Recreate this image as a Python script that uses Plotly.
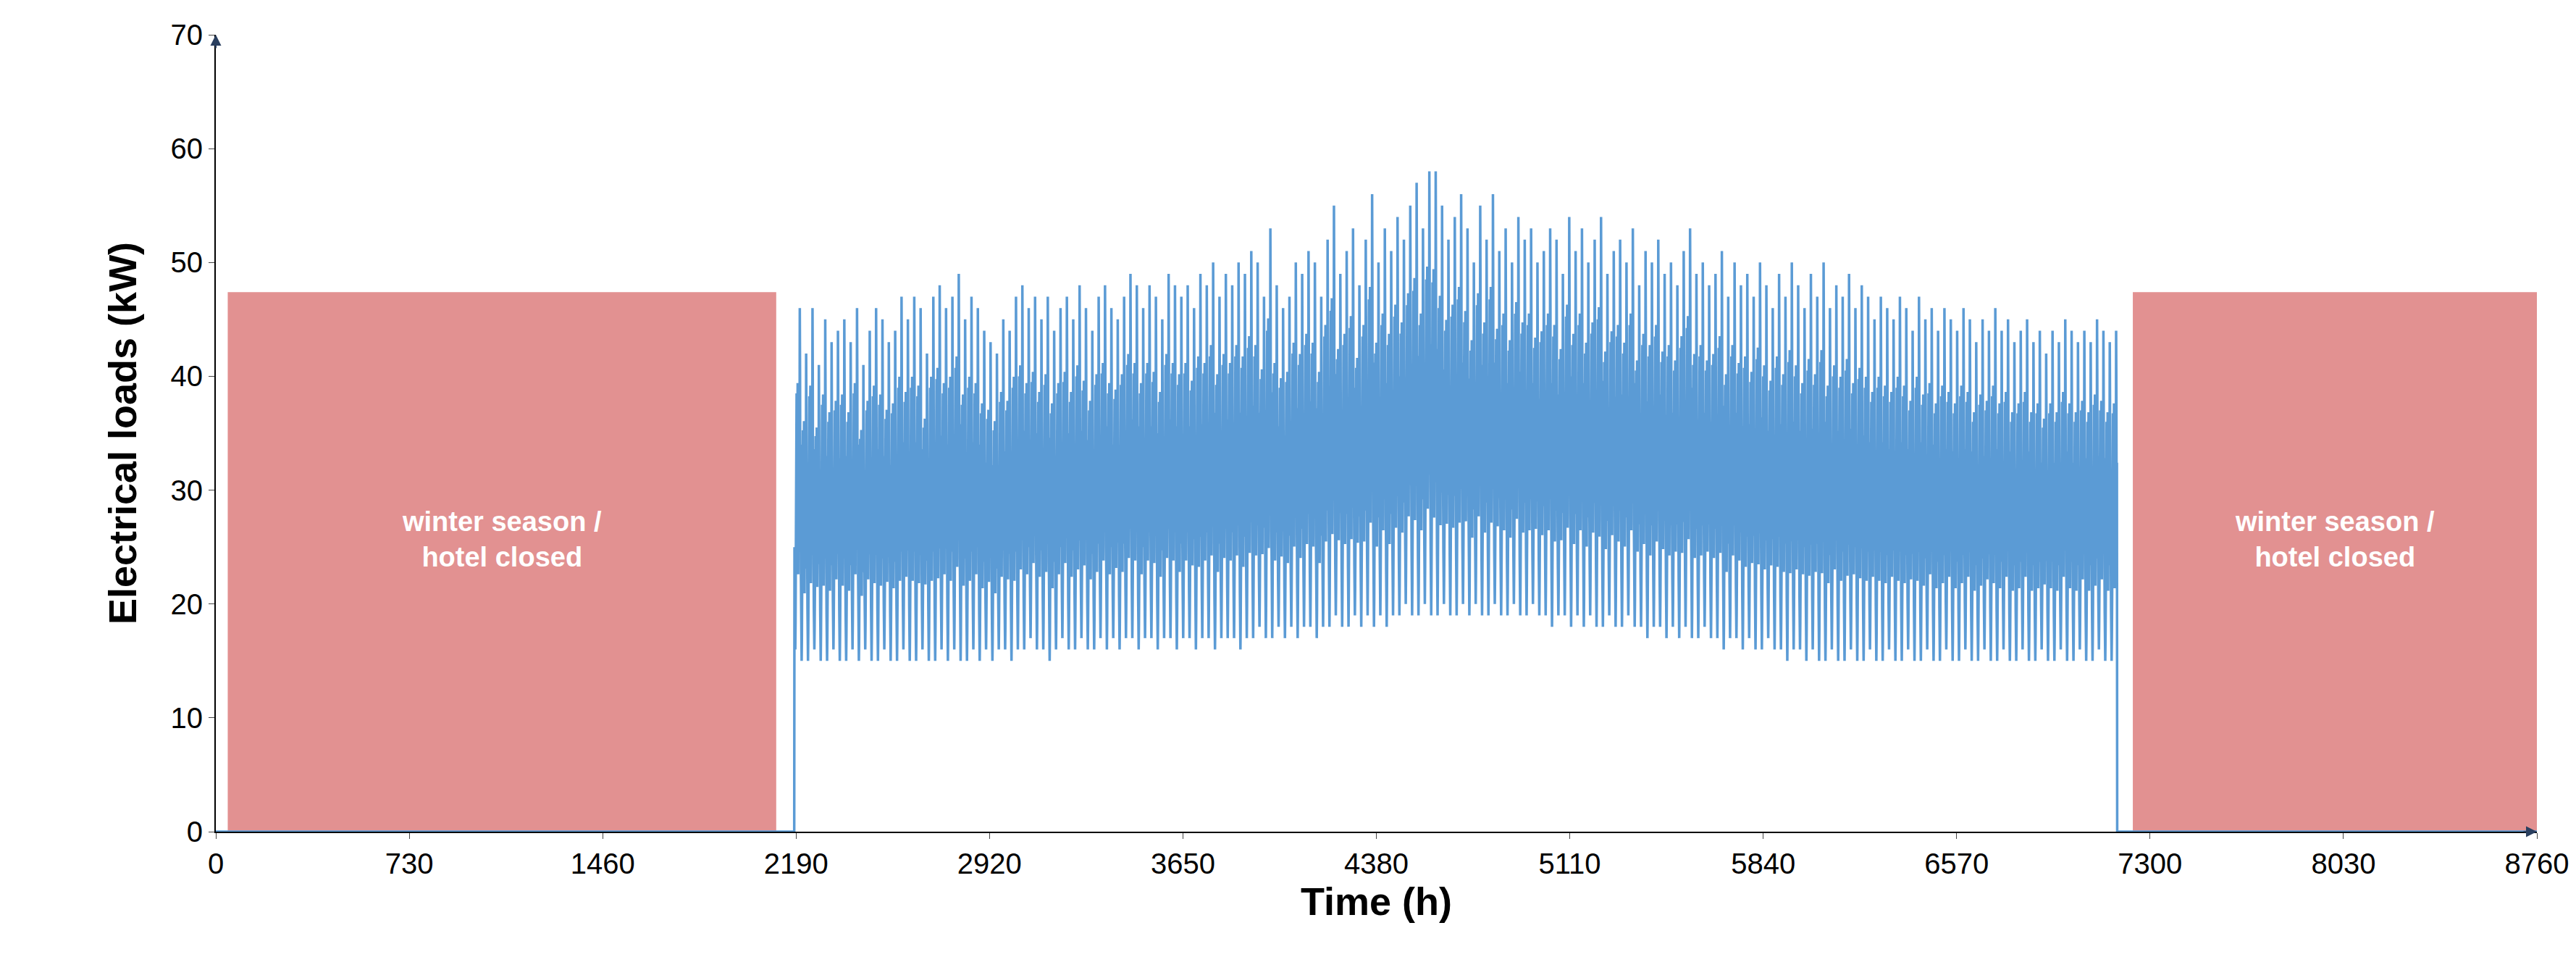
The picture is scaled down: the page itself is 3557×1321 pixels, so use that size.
import plotly.graph_objects as go

season_start_h = 2184
daily_max = [
 46,42,46,41,45,43,44,45,43,46, 41,44,46,45,43,44,47,45,47,46,
 42,47,48,46,47,49,45,47,46,44, 43,42,45,44,47,48,46,47,45,47,
 44,46,47,45,48,46,44,47,48,46, 45,47,49,48,46,48,47,45,49,48,
 47,48,46,49,48,50,47,49,48,50, 49,51,
 50,47,53,48,46,47,50,49,51,50, 47,52,55,49,51,53,48,52,56,50,
 53,51,54,52,55,57,53,58,58,55, 52,54,56,53,50,55,52,56,51,53,
 50,54,52,53,50,51,53,52,49,54, 51,53,50,52,54,49,51,52,50,53,
 48,51,50,52,49,50,48,51,53,49, 50,48,49,51,47,50,48,49,47,50,
 48,46,49,47,50,48,46,49,47,50, 46,48,47,49,46,48,47,45,47,46,
 45,47,46,44,47,45,46,44,46,45, 44,46,45,43,45,44,46,44,45,43,
 44,45,43,44,42,44,43,45,44,43, 44,43,45,44,43,44
]
daily_min = [
 16,15,15,16,15,15,16,15,15,16, 15,16,15,15,16,15,15,16,15,15,
 16,15,15,16,15,16,15,15,16,15, 16,15,16,16,15,16,16,17,16,16,
 15,16,17,16,16,17,16,16,17,16, 17,16,17,17,16,17,17,16,17,17,
 16,17,17,16,17,17,16,17,17,17, 16,17,
 17,18,17,17,18,17,18,17,18,18, 17,18,18,19,18,18,19,18,19,18,
 19,18,19,19,20,19,19,20,19,19, 20,19,19,20,19,20,19,19,20,19,
 19,20,19,19,20,19,19,18,19,19, 18,19,18,19,18,18,19,18,18,19,
 18,18,17,18,18,17,18,17,18,17, 17,18,17,17,16,17,17,16,17,16,
 16,17,16,16,15,16,16,15,16,15, 15,16,15,15,16,15,15,16,15,15,
 16,15,15,16,15,15,16,15,15,16, 15,15,16,15,15,16,15,15,16,15,
 15,16,15,15,16,15,15,16,15,15, 16,15,15,16,15,15
]
# typical hourly shape of a day (0 = daily min, 1 = daily max)
day_profile = [0.3,0.15,0.05,0.0,0.08,0.2,0.45,0.62,0.75,0.5,0.25,0.68,
               0.78,0.4,0.22,0.55,0.3,0.66,0.76,0.5,1.0,0.8,0.35,0.6]

hours = list(range(0, season_start_h))
load = [0.0]*len(hours)
h = season_start_h
for mx, mn in zip(daily_max, daily_min):
    for p in day_profile:
        hours.append(h); load.append(mn + p*(mx-mn)); h += 1
while h <= 8760:
    hours.append(h); load.append(0.0); h += 1

closed_periods = [(45, 2115), (7235, 8760)]
closed_height = 47.4
closed_label = "winter season /<br>hotel closed"

fig = go.Figure()
for x0, x1 in closed_periods:
    fig.add_shape(type="rect", x0=x0, x1=x1, y0=0, y1=closed_height, xref="x", yref="y",
                  fillcolor="#E29191", line_width=0, layer="below")
    fig.add_annotation(x=(x0+x1)/2, y=closed_height/2 + 2, text="<b>"+closed_label+"</b>",
                       showarrow=False, font=dict(color="white", size=38, family="Liberation Sans"))
fig.add_trace(go.Scatter(x=hours, y=load, mode="lines", line=dict(color="#5B9BD5", width=3.5),
                         showlegend=False))
fig.update_layout(
    width=3557, height=1321, plot_bgcolor="white", paper_bgcolor="white",
    margin=dict(l=290, r=62, t=40, b=181),
    font=dict(family="Liberation Sans", size=40, color="black"),
    xaxis=dict(range=[0, 8760], tickvals=list(range(0, 8761, 730)), showgrid=False,
               showline=True, linecolor="black", linewidth=2, ticks="outside", ticklen=8,
               title=dict(text="<b>Time (h)</b>", font=dict(size=54), standoff=12), zeroline=False),
    yaxis=dict(range=[0, 70], tickvals=list(range(0, 71, 10)), showgrid=False,
               showline=True, linecolor="black", linewidth=2, ticks="outside", ticklen=8,
               title=dict(text="<b>Electrical loads (kW)</b>", font=dict(size=54), standoff=30), zeroline=False),
)
fig.add_annotation(x=1, y=0, xref="paper", yref="paper", ax=-20, ay=0,
                   showarrow=True, arrowhead=2, arrowsize=1.5, arrowwidth=2, text="")
fig.add_annotation(x=0, y=1, xref="paper", yref="paper", ax=0, ay=20,
                   showarrow=True, arrowhead=2, arrowsize=1.5, arrowwidth=2, text="")
fig.write_html("out.html")
